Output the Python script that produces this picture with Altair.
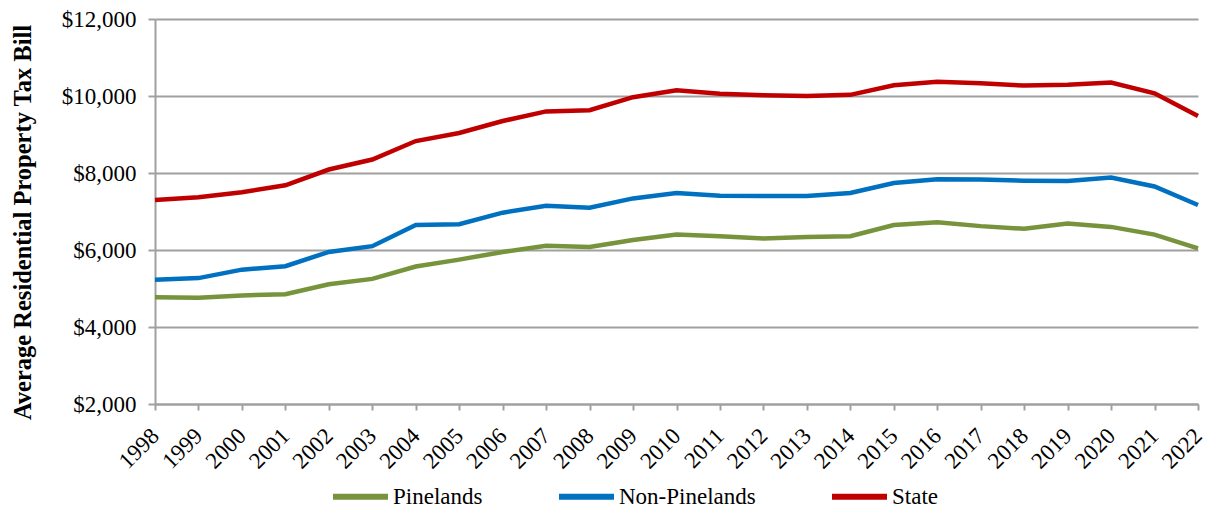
import altair as alt
import pandas as pd

years = [str(y) for y in range(1998, 2023)]
pinelands = [4770, 4760, 4820, 4850, 5110, 5250, 5570, 5750, 5950, 6110, 6080, 6260, 6400,
             6360, 6300, 6340, 6360, 6650, 6720, 6620, 6550, 6690, 6600, 6400, 6040]
non_pinelands = [5230, 5270, 5490, 5580, 5950, 6100, 6650, 6670, 6970, 7150, 7100, 7340, 7480,
                 7410, 7400, 7400, 7480, 7740, 7840, 7830, 7800, 7790, 7880, 7650, 7170]
state = [7300, 7370, 7500, 7680, 8090, 8350, 8830, 9040, 9350, 9600, 9630, 9970, 10150,
         10060, 10020, 10000, 10030, 10280, 10370, 10330, 10270, 10290, 10350, 10070, 9480]
series_names = ["Pinelands", "Non-Pinelands", "State"]
series_colors = ["#77933C", "#0070C0", "#C00000"]
y_ticks = [2000, 4000, 6000, 8000, 10000, 12000]

rows = []
for name, vals in zip(series_names, [pinelands, non_pinelands, state]):
    for yr, v in zip(years, vals):
        rows.append({"Year": yr, "Series": name, "Value": v})
df = pd.DataFrame(rows)

FONT = "Liberation Serif"
GRAY = "#A0A0A0"

chart = alt.Chart(df).mark_line(strokeWidth=4.5).encode(
    x=alt.X("Year:O", sort=years,
            scale=alt.Scale(type="point", padding=0),
            axis=alt.Axis(title=None, labelAngle=-45, labelAlign="right", labelBaseline="middle",
                          labelFont=FONT, labelFontSize=23, labelColor="black",
                          labelPadding=22, tickSize=6, tickColor=GRAY, tickWidth=2,
                          domainColor=GRAY, domainWidth=2, grid=False, labelOverlap=False)),
    y=alt.Y("Value:Q", scale=alt.Scale(domain=[2000, 12000], nice=False, zero=False),
            axis=alt.Axis(values=y_ticks, format="$,.0f",
                          title="Average Residential Property Tax Bill",
                          titleFont=FONT, titleFontSize=24.5, titleFontWeight="bold",
                          titleColor="black", titleX=-132, titleY=203,
                          titleAngle=-90, titleAlign="center", titleBaseline="middle",
                          labelFont=FONT, labelFontSize=23, labelColor="black",
                          labelPadding=12, tickSize=7, tickColor=GRAY, tickWidth=2,
                          domainColor=GRAY, domainWidth=2,
                          grid=True, gridColor=GRAY, gridWidth=2)),
    color=alt.Color("Series:N",
                    scale=alt.Scale(domain=series_names, range=series_colors),
                    sort=series_names,
                    legend=alt.Legend(title=None, orient="none", direction="horizontal",
                                      legendX=175, legendY=447,
                                      symbolType="stroke", symbolSize=3025, symbolStrokeWidth=6,
                                      labelFont=FONT, labelFontSize=23, labelColor="black",
                                      labelOffset=2, columnPadding=64)),
).properties(
    width=1043, height=385,
    autosize=alt.AutoSizeParams(type="none"),
    padding={"left": 147, "top": 11, "right": 8, "bottom": 104},
).configure_view(stroke=None).configure_legend(labelFont=FONT)

chart.save("out.html", embed_options={"renderer": "svg", "actions": False})
